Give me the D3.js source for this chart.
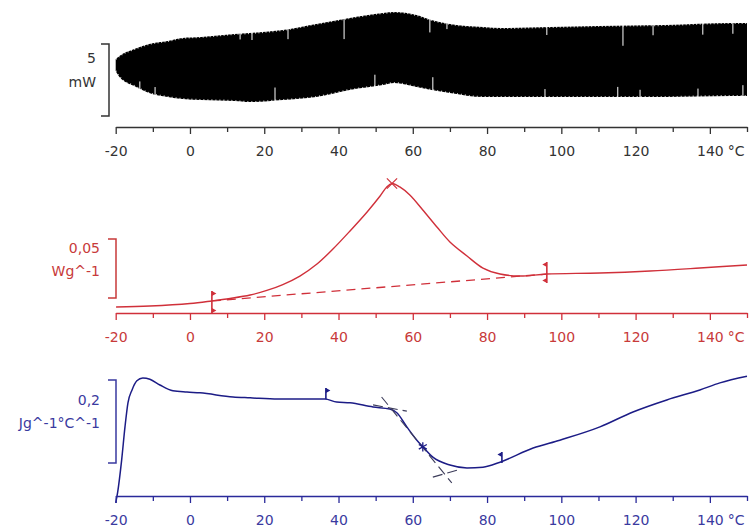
<!DOCTYPE html>
<html><head><meta charset="utf-8">
<script src="https://cdn.jsdelivr.net/npm/d3@7"></script>
<style>body{margin:0;background:#fff}svg{display:block}</style>
</head><body><svg id="c" width="749" height="529"></svg>
<script>
// ---------- data ----------
const tempTicks = d3.range(-20, 151, 10);
const labelTicks = [-20, 0, 20, 40, 60, 80, 100, 120, 140];
const unitLabel = "°C";

// Panel 1: modulated heat flow (mW), upper / lower envelope of the oscillation
const hfT     = [-20, -19, -15, -11, -6, -2, 3, 12, 16, 25, 34, 43, 52, 55, 61, 65, 70, 79, 84, 97, 110, 128, 146, 150];
const hfUpper = [3.96, 4.17, 4.65, 5.00, 5.21, 5.42, 5.49, 5.69, 5.76, 5.97, 6.39, 6.81, 7.15, 7.22, 7.01, 6.67, 6.39, 6.18, 6.11, 6.18, 6.25, 6.32, 6.46, 6.46];
const hfLower = [3.13, 2.71, 2.08, 1.60, 1.32, 1.18, 1.11, 1.04, 0.97, 1.11, 1.32, 1.81, 2.15, 2.29, 2.01, 1.81, 1.60, 1.32, 1.32, 1.32, 1.32, 1.32, 1.39, 1.39];
const hfGapTopT   = [13.5, 16.7, 26.4, 41.5, 64.6, 69.2, 96.1, 116.6, 124.7, 138.1, 146.2];
const hfGapTopLen = [0.4, 0.5, 0.7, 1.4, 0.9, 0.4, 0.55, 1.4, 0.7, 0.75, 0.75];
const hfGapBotT   = [-13.5, -9.4, 22.9, 49.8, 65.4, 95.6, 115.2, 121.2, 136.8, 148.9];
const hfGapBotLen = [0.5, 0.5, 0.9, 0.8, 0.9, 0.55, 0.7, 0.5, 0.55, 0.75];
const hfScale = [0, 5];
const hfLabels = ["5", "mW"];

// Panel 2: non-reversing heat flow (W/g)
const nrT = [-19.9, -10.8, 0, 5.9, 10.8, 16.2, 20.7, 25.0, 29.6, 34.2, 38.5, 43.1, 47.7, 51.2, 53.0, 54.4, 56.5, 59.2, 62.7, 66.5, 70.0, 74.6, 78.9, 83.5, 88.9, 96.1, 110.4, 123.9, 137.3, 150];
const nrV = [0.0124, 0.0132, 0.0153, 0.0175, 0.0196, 0.0225, 0.0264, 0.0314, 0.0386, 0.0488, 0.0615, 0.0768, 0.0929, 0.1064, 0.1141, 0.1170, 0.1141, 0.1073, 0.0946, 0.0802, 0.0675, 0.0556, 0.0454, 0.0403, 0.0386, 0.0403, 0.0412, 0.0429, 0.0454, 0.0480];
const nrBaseT = [5.9, 96.1];
const nrBaseV = [0.0175, 0.0403];
const nrPeakT = 54.4, nrPeakV = 0.1170;
const nrScale = [0.02, 0.07];
const nrLabels = ["0,05", "Wg^-1"];

// Panel 3: reversing heat capacity (J/g/°C)
const cpT = [-20, -19.5, -18.4, -17.5, -16.7, -15.6, -14.3, -12.7, -10.8, -8.1, -4.6, -0.8, 2.7, 11.6, 16.2, 23.7, 36.3, 39.5, 43.1, 49.3, 53.8, 55.7, 58.4, 61.1, 62.7, 65.4, 70, 74.6, 78.9, 83.5, 92.4, 99.6, 110.4, 119.3, 128.4, 137.3, 142.7, 150];
const cpV = [1.304, 1.328, 1.407, 1.487, 1.545, 1.576, 1.598, 1.605, 1.602, 1.588, 1.574, 1.571, 1.569, 1.559, 1.557, 1.554, 1.554, 1.547, 1.545, 1.535, 1.530, 1.521, 1.487, 1.455, 1.439, 1.414, 1.395, 1.388, 1.390, 1.402, 1.436, 1.455, 1.487, 1.523, 1.552, 1.576, 1.593, 1.609];
const cpFlagT = [36.6, 84];
const cpFlagV = [1.554, 1.400];
const cpTanSteepT = [51.6, 70.5], cpTanSteepV = [1.559, 1.352];
const cpTanUpT = [49.3, 58.4],    cpTanUpV = [1.540, 1.525];
const cpTanLoT = [65.4, 72.1],    cpTanLoV = [1.366, 1.383];
const cpMidT = 62.7, cpMidV = 1.439;
const cpScale = [1.4, 1.6];
const cpLabels = ["0,2", "Jg^-1°C^-1"];

// ---------- drawing ----------
const svg = d3.select("#c");
const FONT = "'DejaVu Sans', Verdana, sans-serif";
const x = d3.scaleLinear().domain([-20, 150]).range([115.7, 747]);

const yTop = d3.scaleLinear().domain(hfScale).range([116, 44]);
const yMid = d3.scaleLinear().domain(nrScale).range([298, 239]);
const yBot = d3.scaleLinear().domain(cpScale).range([463, 380]);

function drawAxis(yPos, lineColor, textColor) {
  const ax = d3.axisBottom(x).tickValues(tempTicks).tickSize(8).tickSizeOuter(0)
    .tickFormat(d => labelTicks.includes(d) ? String(d) : "");
  const g = svg.append("g").attr("transform", `translate(0,${yPos})`).call(ax)
    .attr("font-family", null).attr("font-size", null);
  g.select(".domain").attr("stroke", lineColor).attr("stroke-width", 1.5);
  g.selectAll(".tick line").attr("stroke", lineColor).attr("stroke-width", 1.3)
    .attr("y2", d => d % 20 === 0 ? 7 : 5);
  g.selectAll(".tick text").attr("fill", textColor).attr("y", 19).attr("dy", "0.71em")
    .style("font-family", FONT).style("font-size", "14px");
  svg.append("text").attr("x", x(140) + 18).attr("y", yPos + 19).attr("dy", "0.71em")
    .attr("fill", textColor).style("font-family", FONT).style("font-size", "14px").text(unitLabel);
}

function drawBracket(scale, dom, bx, color, labels, labelY, rx) {
  const y0 = scale(dom[0]), y1 = scale(dom[1]);
  svg.append("path")
    .attr("d", `M${bx - 8},${y1}H${bx}V${y0}H${bx - 8}`)
    .attr("fill", "none").attr("stroke", color).attr("stroke-width", 1.5);
  labels.forEach((t, i) => {
    svg.append("text").attr("x", rx).attr("y", labelY[i]).attr("text-anchor", "end")
      .attr("fill", color).style("font-family", FONT).style("font-size", "14px").text(t);
  });
}

// ---- Panel 1 ----
const hfData = hfT.map((t, i) => ({ t, u: hfUpper[i], l: hfLower[i] }));
svg.append("path").datum(hfData)
  .attr("d", d3.area().x(d => x(d.t)).y0(d => yTop(d.l)).y1(d => yTop(d.u)).curve(d3.curveMonotoneX))
  .attr("fill", "#000");
// jagged edge of the oscillation
svg.append("path").datum(hfData)
  .attr("d", d3.line().x(d => x(d.t)).y(d => yTop(d.u)).curve(d3.curveMonotoneX))
  .attr("fill", "none").attr("stroke", "#fff").attr("stroke-width", 2).attr("stroke-dasharray", "1,2.5").attr("stroke-opacity", 0.8);
svg.append("path").datum(hfData)
  .attr("d", d3.line().x(d => x(d.t)).y(d => yTop(d.l)).curve(d3.curveMonotoneX))
  .attr("fill", "none").attr("stroke", "#fff").attr("stroke-width", 2).attr("stroke-dasharray", "1,3").attr("stroke-opacity", 0.8);
const upAt = t => d3.scaleLinear().domain(hfT).range(hfUpper)(t);
const loAt = t => d3.scaleLinear().domain(hfT).range(hfLower)(t);
hfGapTopT.forEach((t, i) => {
  svg.append("line").attr("x1", x(t)).attr("x2", x(t))
    .attr("y1", yTop(upAt(t) + 0.3)).attr("y2", yTop(upAt(t) - hfGapTopLen[i]))
    .attr("stroke", "#fff").attr("stroke-width", 1);
});
hfGapBotT.forEach((t, i) => {
  svg.append("line").attr("x1", x(t)).attr("x2", x(t))
    .attr("y1", yTop(loAt(t) - 0.3)).attr("y2", yTop(loAt(t) + hfGapBotLen[i]))
    .attr("stroke", "#fff").attr("stroke-width", 1);
});
drawBracket(yTop, hfScale, 109, "#333", hfLabels, [63, 87], 96);
drawAxis(127, "#333", "#333");

// ---- Panel 2 ----
const RED = "#d0303a", RED_T = "#c83a3a";
const nrData = nrT.map((t, i) => ({ t, v: nrV[i] }));
svg.append("path").datum(nrData)
  .attr("d", d3.line().x(d => x(d.t)).y(d => yMid(d.v)).curve(d3.curveCatmullRom.alpha(0.5)))
  .attr("fill", "none").attr("stroke", RED).attr("stroke-width", 1.4);
svg.append("path").datum(nrBaseT.map((t, i) => ({ t, v: nrBaseV[i] })))
  .attr("d", d3.line().x(d => x(d.t)).y(d => yMid(d.v)))
  .attr("fill", "none").attr("stroke", RED).attr("stroke-width", 1.3).attr("stroke-dasharray", "9,6");
// integration limit markers
nrBaseT.forEach((t, i) => {
  const px = x(t), py = yMid(nrBaseV[i]);
  const dir = i === 0 ? 1 : -1;
  const top = i === 0 ? py - 10 : py - 12, bot = i === 0 ? py + 12 : py + 9;
  svg.append("line").attr("x1", px).attr("x2", px).attr("y1", top).attr("y2", bot)
    .attr("stroke", RED).attr("stroke-width", 1.6);
  [top, bot - 5].forEach(fy => {
    svg.append("path").attr("d", `M${px},${fy}L${px + dir * 4.5},${fy + 2.5}L${px},${fy + 5}Z`).attr("fill", RED);
  });
});
svg.append("path").attr("transform", `translate(${x(nrPeakT)},${yMid(nrPeakV)})`)
  .attr("d", d3.symbol(d3.symbolTimes, 70)()).attr("fill", "none").attr("stroke", RED).attr("stroke-width", 1.2);
drawBracket(yMid, nrScale, 116, RED_T, nrLabels, [253, 276], 100);
drawAxis(313, RED, RED_T);

// ---- Panel 3 ----
const BLUE = "#1c1c86", BLUE_T = "#3a3aa0", BLUE_A = "#2a2a9a", DASH = "#3c3c5a";
svg.append("path").datum(cpT.map((t, i) => ({ t, v: cpV[i] })))
  .attr("d", d3.line().x(d => x(d.t)).y(d => yBot(d.v)).curve(d3.curveMonotoneX))
  .attr("fill", "none").attr("stroke", BLUE).attr("stroke-width", 1.5);
[[cpTanSteepT, cpTanSteepV], [cpTanUpT, cpTanUpV], [cpTanLoT, cpTanLoV]].forEach(([ts, vs]) => {
  svg.append("path").datum(ts.map((t, i) => ({ t, v: vs[i] })))
    .attr("d", d3.line().x(d => x(d.t)).y(d => yBot(d.v)))
    .attr("fill", "none").attr("stroke", DASH).attr("stroke-width", 1.1).attr("stroke-dasharray", "10,5");
});
cpFlagT.forEach((t, i) => {
  const px = x(t), py = yBot(cpFlagV[i]);
  const dir = i === 0 ? 1 : -1;
  svg.append("line").attr("x1", px).attr("x2", px).attr("y1", py - 11).attr("y2", py)
    .attr("stroke", BLUE).attr("stroke-width", 1.6);
  svg.append("path").attr("d", `M${px},${py - 11}L${px + dir * 4.5},${py - 8.5}L${px},${py - 6}Z`).attr("fill", BLUE);
});
svg.append("path").attr("transform", `translate(${x(cpMidT)},${yBot(cpMidV)})`)
  .attr("d", d3.symbol(d3.symbolAsterisk, 60)()).attr("fill", "none").attr("stroke", BLUE).attr("stroke-width", 1.3);
drawBracket(yBot, cpScale, 116, BLUE_T, cpLabels, [405, 428], 100);
drawAxis(496, BLUE_A, BLUE_T);
</script>
</body></html>
